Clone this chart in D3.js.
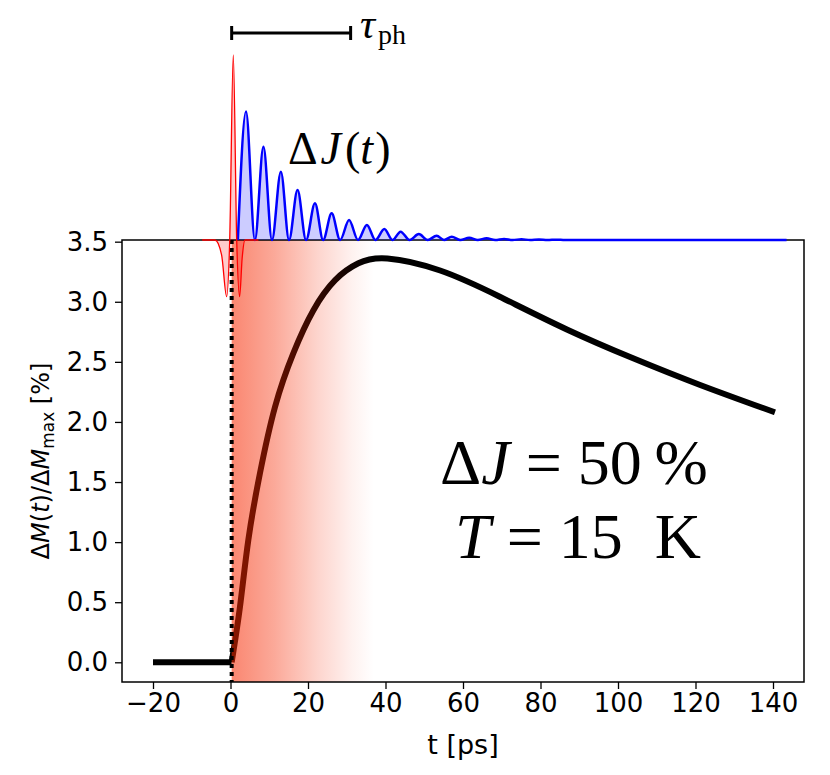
<!DOCTYPE html>
<html>
<head>
<meta charset="utf-8">
<script src="https://cdn.jsdelivr.net/npm/d3@7"></script>
<style>
  body { margin: 0; background: white; }
  svg text { font-family: "DejaVu Sans", sans-serif; }
  .serif { font-family: "Liberation Serif", "Times New Roman", serif; }
</style>
</head>
<body>
<div id="chart"></div>
<script>
// ticks
var xTicks = [-20, 0, 20, 40, 60, 80, 100, 120, 140];
var yTicks = [0.0, 0.5, 1.0, 1.5, 2.0, 2.5, 3.0, 3.5];

// magnetisation curve
var magT = [-20, 0.3, 2.45, 4.6, 7.6, 11.5, 16.2, 21.4, 27.0, 33.0, 40.5, 54.1, 69.5, 86.8, 103.9, 121.2, 140.5];
var magV = [0, 0, 0.463, 1.018, 1.573, 2.127, 2.571, 2.93, 3.18, 3.32, 3.36, 3.26, 3.042, 2.77, 2.53, 2.308, 2.08];

// red pump pulse (arb. units)
var pulseT = [-7.3, -4.0, -2.3, -1.0, -0.2, 0.72, 1.6, 2.35, 3.0, 3.74, 7.2];
var pulseV = [0, 0, -0.08, -0.306, 0, 1.0, 0, -0.306, -0.1, 0, 0];

// blue ΔJ(t) oscillation: peaks and zero touches
var peakT = [4.0, 8.5, 13.0, 17.3, 21.8, 26.1, 30.6, 35.2, 39.7, 43.9, 48.6, 53.2, 57.1, 61.6, 66.1, 70.6, 75.1, 79.6, 84.1];
var peakA = [0.694, 0.504, 0.369, 0.270, 0.198, 0.144, 0.108, 0.081, 0.059, 0.045, 0.032, 0.023, 0.018, 0.012, 0.009, 0.006, 0.004, 0.003, 0.002];
var zeroT = [1.9, 6.3, 10.7, 15.1, 19.5, 23.9, 28.3, 32.9, 37.4, 41.8, 46.2, 50.9, 55.1, 59.3, 63.8, 68.3, 72.8, 77.3, 81.8, 86.3];
var blueEnd = 143.5;

// phonon time bar
var tauBar = [0.3, 31];
// shaded excitation window
var shadeT = [0.3, 37];

const width = 830;
const height = 775;
const pLeft = 122, pRight = 804, pTop = 240, pBottom = 682;

const xScale = d3.scaleLinear().domain([-28, 148]).range([pLeft, pRight]);
const yScale = d3.scaleLinear().domain([-0.164, 3.514]).range([pBottom, pTop]);
// scale for the upper ΔJ panel, baseline sits on top spine
const jScale = d3.scaleLinear().domain([0, 1]).range([pTop, 55]);

let svg = d3.select('#chart')
    .append('svg')
    .attr('width', width)
    .attr('height', height);

let defs = svg.append('defs');
let grad = defs.append('linearGradient')
    .attr('id', 'shade')
    .attr('x1', '0%').attr('x2', '100%').attr('y1', '0%').attr('y2', '0%');
[[0, 0.56], [0.3, 0.4], [0.6, 0.2], [0.85, 0.06], [1, 0]].forEach(s => {
    grad.append('stop')
        .attr('offset', s[0])
        .attr('stop-color', 'rgb(246,40,0)')
        .attr('stop-opacity', s[1]);
});

defs.append('clipPath').attr('id', 'clip')
    .append('rect')
    .attr('x', pLeft).attr('y', pTop)
    .attr('width', pRight - pLeft).attr('height', pBottom - pTop);

// magnetisation curve: flat part before t0, smooth rise after
let magData = magT.map((t, i) => ({ t: t, v: magV[i] }));
let magLine = d3.line()
    .x(d => xScale(d.t))
    .y(d => yScale(d.v));
svg.append('path')
    .datum(magData.slice(0, 2))
    .attr('fill', 'none')
    .attr('stroke', 'black')
    .attr('stroke-width', 6)
    .attr('d', magLine);
svg.append('path')
    .datum(magData.slice(1))
    .attr('fill', 'none')
    .attr('stroke', 'black')
    .attr('stroke-width', 6)
    .attr('d', magLine.curve(d3.curveNatural));

// red shading on top, tints the curve underneath
svg.append('rect')
    .attr('clip-path', 'url(#clip)')
    .attr('x', xScale(shadeT[0]))
    .attr('y', pTop)
    .attr('width', xScale(shadeT[1]) - xScale(shadeT[0]))
    .attr('height', pBottom - pTop)
    .attr('fill', 'url(#shade)');

// dotted t = 0 line
svg.append('line')
    .attr('x1', xScale(0.3)).attr('x2', xScale(0.3))
    .attr('y1', pTop).attr('y2', pBottom)
    .attr('stroke', 'black')
    .attr('stroke-width', 4)
    .attr('stroke-dasharray', '4,4');

// frame
svg.append('rect')
    .attr('x', pLeft).attr('y', pTop)
    .attr('width', pRight - pLeft).attr('height', pBottom - pTop)
    .attr('fill', 'none')
    .attr('stroke', 'black')
    .attr('stroke-width', 1.5);

// axes
let xAxis = svg.append('g')
    .attr('transform', `translate(0, ${pBottom})`)
    .call(d3.axisBottom(xScale).tickValues(xTicks).tickSize(7).tickPadding(5)
        .tickFormat(d => d < 0 ? '\u2212' + Math.abs(d) : d));
let yAxis = svg.append('g')
    .attr('transform', `translate(${pLeft}, 0)`)
    .call(d3.axisLeft(yScale).tickValues(yTicks).tickSize(7).tickPadding(7)
        .tickFormat(d3.format('.1f')));

[xAxis, yAxis].forEach(a => {
    a.select('.domain').remove();
    a.selectAll('.tick line').attr('stroke', 'black').attr('stroke-width', 1.3);
    a.selectAll('.tick text')
        .attr('fill', 'black')
        .style('font-family', '"DejaVu Sans", sans-serif')
        .style('font-size', '26px');
});

// axis labels
svg.append('text')
    .attr('x', (pLeft + pRight) / 2)
    .attr('y', 754)
    .attr('text-anchor', 'middle')
    .style('font-size', '27px')
    .text('t [ps]');

let yl = svg.append('text')
    .attr('transform', `translate(49, ${(pTop + pBottom) / 2}) rotate(-90)`)
    .attr('text-anchor', 'middle')
    .style('font-size', '24px');
yl.append('tspan').text('\u0394');
yl.append('tspan').attr('font-style', 'italic').text('M');
yl.append('tspan').text('(');
yl.append('tspan').attr('font-style', 'italic').text('t');
yl.append('tspan').text(')/\u0394');
yl.append('tspan').attr('font-style', 'italic').text('M');
yl.append('tspan').attr('dy', 5).style('font-size', '17px').text('max');
yl.append('tspan').attr('dy', -5).text(' [%]');

// upper panel: blue ΔJ(t)
let bluePts = [{ t: zeroT[0], v: 0 }];
peakT.forEach((t, i) => {
    bluePts.push({ t: t, v: peakA[i] });
    bluePts.push({ t: zeroT[i + 1], v: 0 });
});
bluePts.push({ t: blueEnd, v: 0 });

svg.append('path')
    .datum(bluePts)
    .attr('fill', 'rgba(0,0,255,0.2)')
    .attr('stroke', 'none')
    .attr('d', d3.area()
        .x(d => xScale(d.t))
        .y0(jScale(0))
        .y1(d => jScale(d.v))
        .curve(d3.curveMonotoneX));
svg.append('path')
    .datum(bluePts)
    .attr('fill', 'none')
    .attr('stroke', 'blue')
    .attr('stroke-width', 2.5)
    .attr('d', d3.line()
        .x(d => xScale(d.t))
        .y(d => jScale(d.v))
        .curve(d3.curveMonotoneX));

// upper panel: red pump pulse
let pulseData = pulseT.map((t, i) => ({ t: t, v: pulseV[i] }));
svg.append('path')
    .datum(pulseData)
    .attr('fill', 'rgba(255,0,0,0.2)')
    .attr('stroke', 'none')
    .attr('d', d3.area()
        .x(d => xScale(d.t))
        .y0(jScale(0))
        .y1(d => jScale(d.v))
        .curve(d3.curveMonotoneX));
svg.append('path')
    .datum(pulseData)
    .attr('fill', 'none')
    .attr('stroke', 'red')
    .attr('stroke-width', 1.3)
    .attr('d', d3.line()
        .x(d => xScale(d.t))
        .y(d => jScale(d.v))
        .curve(d3.curveMonotoneX));

// τ_ph bar
let barY = 33;
svg.append('line')
    .attr('x1', xScale(tauBar[0])).attr('x2', xScale(tauBar[1]))
    .attr('y1', barY).attr('y2', barY)
    .attr('stroke', 'black').attr('stroke-width', 3);
tauBar.forEach(t => {
    svg.append('line')
        .attr('x1', xScale(t)).attr('x2', xScale(t))
        .attr('y1', barY - 7).attr('y2', barY + 7)
        .attr('stroke', 'black').attr('stroke-width', 3);
});

let tau = svg.append('text')
    .attr('class', 'serif')
    .attr('x', 360).attr('y', 38)
    .style('font-size', '42px');
tau.append('tspan').attr('font-style', 'italic').text('\u03c4');
tau.append('tspan').attr('dy', 6).attr('dx', 3).style('font-size', '28px').text('ph');

let dj = svg.append('text')
    .attr('class', 'serif')
    .attr('x', 288).attr('y', 164)
    .style('font-size', '46px');
dj.append('tspan').text('\u0394');
dj.append('tspan').attr('font-style', 'italic').attr('dx', 3).text('J');
dj.append('tspan').attr('dx', 4).text('(');
dj.append('tspan').attr('font-style', 'italic').text('t');
dj.append('tspan').attr('dx', 2).text(')');

// annotation
let l1 = svg.append('text')
    .attr('class', 'serif')
    .attr('x', 574).attr('y', 484)
    .attr('text-anchor', 'middle')
    .style('font-size', '64px');
l1.append('tspan').text('\u0394');
l1.append('tspan').attr('font-style', 'italic').text('J');
l1.append('tspan').text(' = 50\u2009%');

let l2 = svg.append('text')
    .attr('class', 'serif')
    .attr('x', 578).attr('y', 558)
    .attr('text-anchor', 'middle')
    .style('font-size', '64px');
l2.append('tspan').attr('font-style', 'italic').text('T');
l2.append('tspan').text(' = 15\u2002K');
</script>
</body>
</html>
